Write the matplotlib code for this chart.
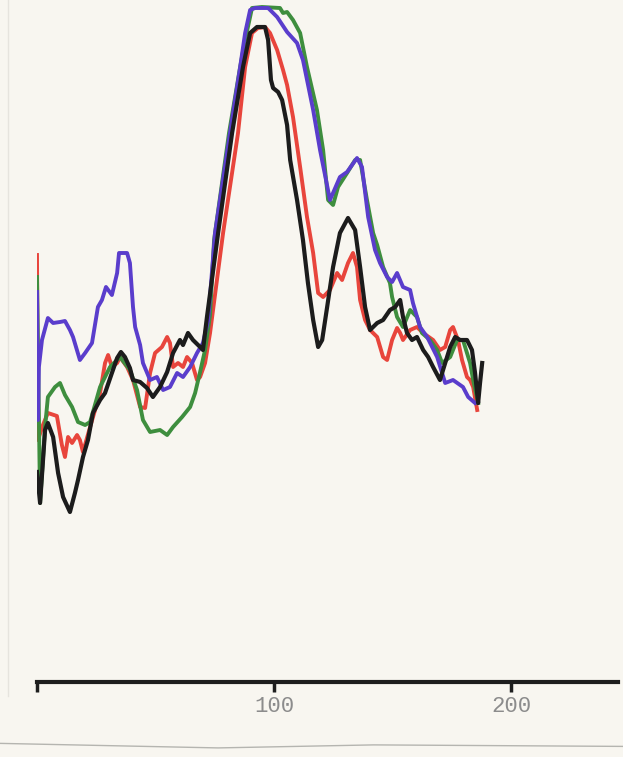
import matplotlib
matplotlib.use('Agg')
import matplotlib.pyplot as plt
from matplotlib.lines import Line2D

# traces (x: scale units, y: pen height)
red_x = [0, 0.4, 2.5, 4.6, 8.4, 10.5, 11.8, 13.1, 14.8, 16.9, 18.1, 19.4, 22.4, 26.6, 28.7,
         30.0, 31.6, 33.8, 35.0, 38.0, 40.5, 43.5, 45.6, 47.7, 49.8, 52.7, 54.9, 56.1, 57.4,
         59.5, 61.6, 63.3, 65.4, 67.5, 68.8, 70.9, 73.0, 78.5, 84.8, 87.8, 90.7, 93.2, 96.2,
         98.3, 101.3, 103.8, 105.5, 108.0, 111.0, 113.9, 116.5, 118.6, 120.7, 123.6, 126.6,
         128.7, 131.2, 133.3, 135.0, 136.3, 138.4, 140.5, 143.5, 146.0, 147.7, 149.8, 151.9,
         153.2, 154.4, 157.4, 160.3, 162.9, 167.1, 170.0, 172.2, 174.3, 175.5, 177.6, 179.3,
         181.4, 182.7, 184.0, 185.7]
red_y = [427, 242, 257, 269, 266, 237, 225, 245, 239, 247, 242, 230, 255, 289, 319, 327, 315,
         319, 325, 315, 302, 275, 274, 309, 329, 335, 345, 339, 315, 319, 315, 325, 319, 302,
         305, 319, 349, 449, 549, 615, 649, 654, 655, 649, 632, 612, 597, 565, 515, 465, 429,
         389, 385, 392, 409, 402, 419, 429, 415, 382, 362, 352, 345, 325, 322, 342, 354, 349,
         342, 352, 355, 349, 342, 332, 335, 352, 355, 342, 322, 305, 302, 295, 272]

green_x = [0, 1.3, 3.4, 4.6, 7.6, 9.7, 11.8, 14.8, 17.3, 20.3, 22.4, 26.6, 30.8, 35.0, 39.2,
           42.2, 44.7, 47.7, 51.9, 54.9, 57.4, 61.2, 64.6, 66.7, 68.8, 70.9, 73.0, 74.7, 81.0,
           85.7, 87.8, 90.7, 94.9, 102.5, 103.8, 105.5, 108.0, 111.0, 113.9, 118.1, 120.7,
           122.8, 124.9, 127.0, 130.8, 134.2, 136.3, 139.2, 141.8, 143.5, 146.0, 148.9, 149.8,
           151.9, 154.4, 157.4, 160.3, 162.4, 165.8, 168.8, 170.9, 174.3, 177.2, 179.7, 182.7,
           184.0, 186.1]
green_y = [405, 179, 255, 285, 295, 299, 287, 275, 260, 257, 260, 295, 315, 325, 312, 292, 262,
           250, 252, 247, 255, 265, 275, 289, 310, 332, 367, 442, 549, 615, 642, 674, 675, 674,
           669, 670, 662, 649, 615, 572, 532, 482, 477, 495, 509, 522, 522, 482, 449, 437, 415,
           399, 385, 365, 355, 372, 365, 349, 342, 332, 319, 325, 342, 342, 319, 302, 279]

blue_x = [0, 0.4, 0.8, 2.1, 4.6, 6.8, 9.7, 11.8, 13.9, 15.2, 18.1, 20.3, 23.2, 25.7, 27.4, 29.1,
          31.6, 33.8, 34.6, 38.0, 39.2, 40.5, 41.4, 43.5, 44.7, 47.7, 50.6, 53.2, 56.1, 59.1,
          61.6, 64.6, 67.5, 70.0, 72.2, 75.1, 81.4, 85.7, 87.8, 89.9, 92.0, 97.5, 101.3, 105.5,
          109.7, 112.2, 116.5, 119.4, 123.6, 127.8, 130.8, 135.0, 137.1, 139.7, 142.6, 144.7,
          147.7, 149.8, 151.9, 154.4, 157.4, 158.6, 161.6, 164.6, 168.8, 172.2, 175.5, 179.7,
          181.9, 184.8]
blue_y = [390, 262, 315, 342, 364, 359, 360, 361, 352, 345, 322, 329, 339, 375, 382, 395, 387,
          409, 429, 429, 419, 375, 355, 337, 319, 302, 305, 292, 295, 309, 305, 315, 329, 339,
          362, 449, 549, 615, 649, 672, 674, 674, 665, 650, 639, 622, 572, 532, 482, 505, 510,
          524, 515, 465, 432, 419, 405, 400, 409, 395, 392, 379, 355, 345, 325, 299, 302, 295,
          285, 279]

black_x = [0, 1.3, 3.4, 4.6, 6.8, 8.9, 11.0, 13.9, 16.0, 17.3, 19.4, 21.5, 23.6, 26.6, 28.7,
           31.6, 33.8, 35.4, 37.1, 39.2, 40.5, 43.5, 46.4, 48.9, 51.9, 54.9, 57.4, 60.3, 61.6,
           63.7, 65.8, 68.8, 70.0, 71.7, 76.4, 82.3, 86.9, 89.9, 92.8, 96.2, 97.5, 98.7, 99.6,
           101.7, 103.4, 105.5, 106.8, 109.7, 112.2, 114.3, 116.5, 118.6, 120.3, 122.4, 124.9,
           127.8, 131.2, 134.2, 136.3, 138.4, 140.5, 143.5, 146.0, 148.9, 151.1, 153.2, 154.4,
           156.1, 158.2, 160.3, 162.9, 165.0, 167.1, 170.0, 172.2, 174.3, 176.4, 178.5, 181.4,
           183.5, 184.8, 186.1, 186.9, 187.8]
black_y = [210, 179, 252, 259, 245, 209, 185, 170, 189, 202, 225, 242, 269, 282, 289, 309, 324,
           330, 325, 314, 302, 300, 294, 285, 295, 310, 329, 342, 337, 349, 342, 335, 332, 365,
           449, 549, 615, 649, 655, 655, 642, 602, 594, 590, 582, 557, 522, 482, 442, 399, 362,
           335, 342, 375, 415, 449, 464, 452, 415, 375, 352, 359, 362, 372, 375, 382, 365, 349,
           342, 345, 332, 325, 315, 302, 319, 335, 345, 342, 342, 332, 309, 279, 299, 319]

tick_pos = [0, 100, 200]
tick_labels = ['', '100', '200']

paper = '#f8f6f0'
fig = plt.figure(figsize=(6.23, 7.57), dpi=100, facecolor=paper)
ax = fig.add_axes([37 / 623, 75 / 757, 581 / 623, 682 / 757])
ax.set_facecolor(paper)

ax.plot(red_x, red_y, color='#e8453c', lw=2.8, solid_joinstyle='round')
ax.plot(green_x, green_y, color='#3e8e3e', lw=2.8, solid_joinstyle='round')
ax.plot(blue_x, blue_y, color='#5a3dcc', lw=2.8, solid_joinstyle='round')
ax.plot(black_x, black_y, color='#1c1c1c', lw=3.0, solid_joinstyle='round')

ax.set_xlim(0, 245.1)
ax.set_ylim(0, 682)
for s in ['left', 'right', 'top']:
    ax.spines[s].set_visible(False)
ax.spines['bottom'].set_linewidth(3)
ax.spines['bottom'].set_color('#1e1e1e')
ax.set_yticks([])
ax.set_xticks(tick_pos)
ax.set_xticklabels(tick_labels, family='Liberation Mono', fontsize=16, color='#8c8c8c')
ax.tick_params(axis='x', direction='out', length=7, width=2.5, color='#1e1e1e', pad=3)

# edge of the paper sheet at the bottom of the scan
fig.add_artist(Line2D([0, 0.35, 0.6, 1], [0.018, 0.012, 0.016, 0.014],
                      color='#b5b5b0', lw=1.0))
fig.add_artist(Line2D([0.013, 0.013], [0.08, 1], color='#e6e4de', lw=1.0))

fig.savefig('out.png', dpi=100, facecolor=paper)
